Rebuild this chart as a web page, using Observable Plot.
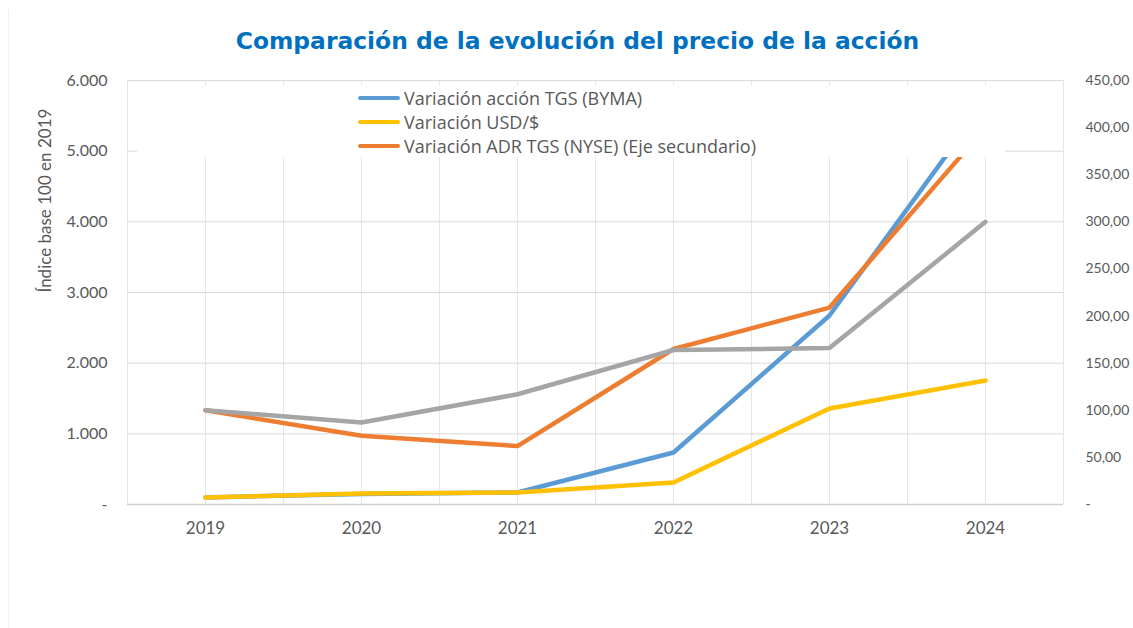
<!DOCTYPE html>
<html><head><meta charset="utf-8">
<script src="https://cdn.jsdelivr.net/npm/d3@7"></script>
<script src="https://cdn.jsdelivr.net/npm/@observablehq/plot@0.6"></script>
<style>
body{margin:0;background:#fff;font-family:Lato,"Open Sans",sans-serif;}
#wrap{position:relative;width:1133px;height:628px;overflow:hidden;background:#fff;}
#edge{position:absolute;left:8px;top:10px;width:1px;height:618px;background:#f0f0f0;}
#title{position:absolute;left:11px;top:26px;width:1133px;text-align:center;color:#0070C0;font-family:"DejaVu Sans",sans-serif;font-weight:bold;font-size:23.4px;line-height:30px;}
#chart{position:absolute;left:0;top:62px;}
#legend{position:absolute;left:137px;top:85px;width:868px;height:72px;background:#fff;}
.item{position:absolute;left:221px;height:24px;display:flex;align-items:center;color:#595959;font-family:"Open Sans",sans-serif;font-size:18px;white-space:nowrap;}
.sw{width:42px;height:4px;border-radius:2px;margin-right:4px;}
</style></head>
<body>
<div id="wrap">
  <div id="edge"></div>
  <div id="chart"></div>
  <div id="legend"></div>
  <div id="title"></div>
</div>
<script>
// ---- data ----
const titleText = "Comparación de la evolución del precio de la acción";
const yLabel = "Índice base 100 en 2019";
const years = [2019, 2020, 2021, 2022, 2023, 2024];
const tgsByma = [100, 150, 170, 736, 2675, 5700];      // eje principal
const usdPeso = [100, 155, 170, 311, 1358, 1755];      // eje principal
const adrNyse = [100, 73, 62, 165, 209, 400];          // eje secundario
const serieGris = [100, 87, 117, 164, 166, 300];       // eje secundario (sin leyenda)
const leftTicks = [0, 1000, 2000, 3000, 4000, 5000, 6000];
const rightTicks = [0, 50, 100, 150, 200, 250, 300, 350, 400, 450];
const gridYears = [2018.5, 2019, 2019.5, 2020, 2020.5, 2021, 2021.5, 2022, 2022.5, 2023, 2023.5, 2024, 2024.5];
const legendNames = ["Variación acción TGS (BYMA)", "Variación USD/$", "Variación ADR TGS (NYSE) (Eje secundario)"];
const colors = ["#5B9BD5", "#FFC000", "#ED7D31", "#A5A5A5"];

const leftMax = 6000, rightMax = 450;
const k = leftMax / rightMax;
const rows = years.map((yr, i) => ({year: yr, tgs: tgsByma[i], usd: usdPeso[i], adr: adrNyse[i], gris: serieGris[i]}));

const fmtLeft = d => d === 0 ? "-" : d3.format(",.0f")(d).replace(/,/g, ".");
const fmtRight = d => d === 0 ? "-" : d.toFixed(2).replace(".", ",");

document.getElementById("title").textContent = titleText;

const txt = "#595959";
const chart = Plot.plot({
  width: 1133, height: 566,
  marginTop: 18, marginBottom: 124, marginLeft: 127, marginRight: 70,
  x: {domain: [2018.5, 2024.5], axis: null},
  y: {domain: [0, leftMax], axis: null},
  style: {fontFamily: "Lato, 'Open Sans', sans-serif", fontSize: "16px", color: txt, background: "transparent"},
  marks: [
    Plot.gridX(gridYears, {stroke: "#e6e6e6", strokeOpacity: 1}),
    Plot.gridY(leftTicks, {stroke: "#d9d9d9", strokeOpacity: 1}),
    Plot.axisY(leftTicks, {anchor: "left", tickSize: 0, tickPadding: 20, tickFormat: fmtLeft, label: null, fill: txt, fontSize: 16}),
    Plot.axisY(rightTicks.map(v => v * k), {anchor: "right", tickSize: 0, tickPadding: 22, tickFormat: d => fmtRight(d / k), label: null, fill: txt, fontSize: 14}),
    Plot.axisX(years, {tickSize: 0, tickPadding: 17, tickFormat: d => String(d), label: null, fill: txt, fontSize: 17}),
    Plot.ruleY([0], {stroke: "#d0d0d0", strokeWidth: 1.5}),
    Plot.text([yLabel], {frameAnchor: "left", dx: -82, rotate: -90, fontSize: 17, fill: txt}),
    Plot.line(rows, {x: "year", y: "tgs", stroke: colors[0], strokeWidth: 4.5}),
    Plot.line(rows, {x: "year", y: "usd", stroke: colors[1], strokeWidth: 4.5}),
    Plot.line(rows, {x: "year", y: d => d.adr * k, stroke: colors[2], strokeWidth: 4.5}),
    Plot.line(rows, {x: "year", y: d => d.gris * k, stroke: colors[3], strokeWidth: 4.5})
  ]
});
document.getElementById("chart").appendChild(chart);

const leg = document.getElementById("legend");
legendNames.forEach((name, i) => {
  const it = document.createElement("div");
  it.className = "item";
  it.style.top = (1 + i * 24) + "px";
  const sw = document.createElement("span");
  sw.className = "sw";
  sw.style.background = colors[i];
  const t = document.createElement("span");
  t.textContent = name;
  it.appendChild(sw); it.appendChild(t);
  leg.appendChild(it);
});
</script>
</body></html>
